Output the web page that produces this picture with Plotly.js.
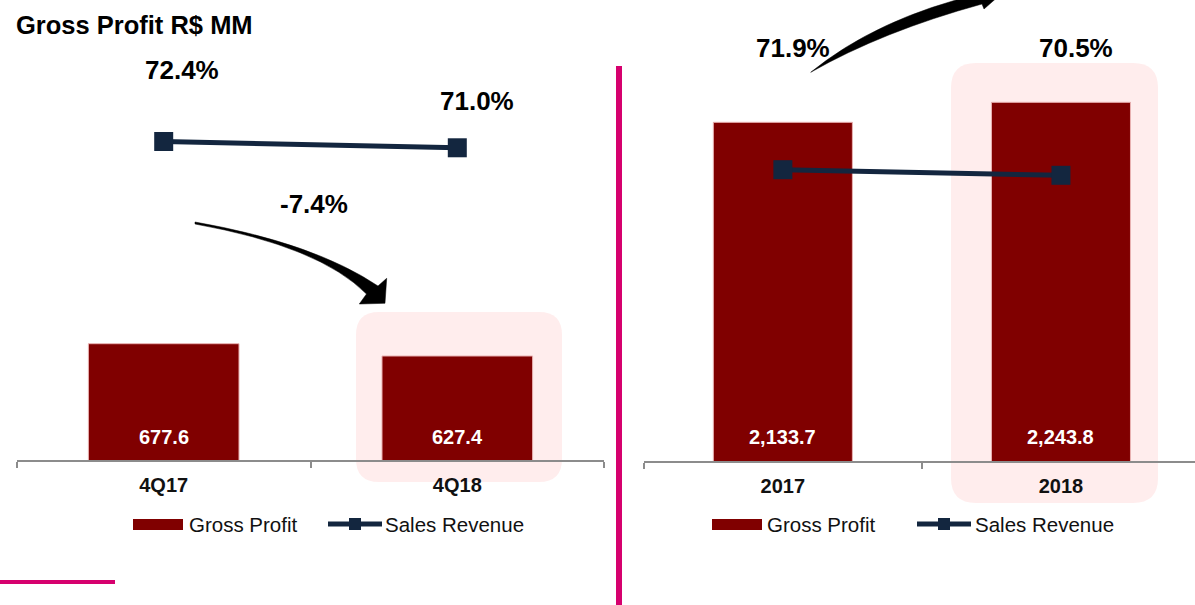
<!DOCTYPE html>
<html>
<head>
<meta charset="utf-8">
<script src="https://cdn.plot.ly/plotly-3.0.1.min.js"></script>
<style>
html,body{margin:0;padding:0;overflow:hidden;background:#fff;}
#chart{width:1200px;height:605px;}
</style>
</head>
<body>
<div id="chart"></div>
<script>
// ---- data ----
const qCategories = ['4Q17', '4Q18'];
const qGrossProfit = [677.6, 627.4];
const qMargin = [72.4, 71.0];
const yCategories = ['2017', '2018'];
const yGrossProfit = [2133.7, 2243.8];
const yMargin = [71.9, 70.5];
const seriesNames = ['Gross Profit', 'Sales Revenue'];
const chartTitle = 'Gross Profit R$ MM';

// ---- styling ----
const FONT = 'Liberation Sans, Arial, sans-serif';
const BAR = '#800000';
const LINE = '#13263f';
const PINK = '#d6006e';
const BOX = '#ffeded';
const W = 1200, H = 605, MB = 144, HP = H - MB;

function P(x, y) { return (x / W).toFixed(5) + ',' + ((HP - y) / HP).toFixed(5); }
function rr(x0, y0, x1, y1, r) {
  return 'M' + P(x0 + r, y0) + ' L' + P(x1 - r, y0) + ' Q' + P(x1, y0) + ' ' + P(x1, y0 + r) +
    ' L' + P(x1, y1 - r) + ' Q' + P(x1, y1) + ' ' + P(x1 - r, y1) +
    ' L' + P(x0 + r, y1) + ' Q' + P(x0, y1) + ' ' + P(x0, y1 - r) +
    ' L' + P(x0, y0 + r) + ' Q' + P(x0, y0) + ' ' + P(x0 + r, y0) + ' Z';
}
const fmt = v => v.toLocaleString('en-US', {minimumFractionDigits: 1, maximumFractionDigits: 1});
const pct = v => v.toFixed(1) + '%';

const yLeftRange = [203, 2080];
const y2LeftRange = [1.62, 103.84];
const yRightRange = [269, 2807];
const y2RightRange = [-0.93, 114.33];

const traces = [
  {type: 'bar', x: qCategories, y: qGrossProfit, xaxis: 'x', yaxis: 'y', name: seriesNames[0],
   width: 0.513, marker: {color: BAR, line: {color: '#e9b3b3', width: 1}}, hoverinfo: 'none'},
  {type: 'scatter', mode: 'lines+markers', x: qCategories, y: qMargin, xaxis: 'x', yaxis: 'y2', name: seriesNames[1],
   line: {color: LINE, width: 5}, marker: {symbol: 'square', size: 19, color: LINE}, hoverinfo: 'none'},
  {type: 'bar', x: yCategories, y: yGrossProfit, xaxis: 'x3', yaxis: 'y3', name: seriesNames[0],
   width: 0.5, marker: {color: BAR, line: {color: '#e9b3b3', width: 1}}, hoverinfo: 'none'},
  {type: 'scatter', mode: 'lines+markers', x: yCategories, y: yMargin, xaxis: 'x3', yaxis: 'y4', name: seriesNames[1],
   line: {color: LINE, width: 5}, marker: {symbol: 'square', size: 19, color: LINE}, hoverinfo: 'none'}
];

const xCommon = {
  type: 'category', autorange: false, range: [-0.5, 1.5],
  showline: true, linecolor: '#8c8c8c', linewidth: 2,
  ticks: 'outside', tickson: 'boundaries', ticklen: 6, tickwidth: 2, tickcolor: '#8c8c8c',
  ticklabelstandoff: 6,
  tickfont: {family: FONT, size: 20, color: '#111', weight: 'bold'},
  showgrid: false, zeroline: false, fixedrange: true
};
const yHidden = {visible: false, showgrid: false, zeroline: false, fixedrange: true, autorange: false};

const annotations = [];
// bar value labels (x given as category index)
qCategories.forEach((c, i) => annotations.push({x: i, y: yLeftRange[0], xref: 'x', yref: 'y', yshift: 23,
  text: fmt(qGrossProfit[i]), showarrow: false, xanchor: 'center', yanchor: 'middle',
  font: {family: FONT, size: 20, color: '#fff', weight: 'bold'}}));
yCategories.forEach((c, i) => annotations.push({x: i, y: yRightRange[0], xref: 'x3', yref: 'y3', yshift: 24,
  text: fmt(yGrossProfit[i]), showarrow: false, xanchor: 'center', yanchor: 'middle',
  font: {family: FONT, size: 20, color: '#fff', weight: 'bold'}}));
// margin labels
const qShift = [[18.7, 71.8], [20, 46.5]];
const yShift = [[10.3, 121.4], [15.3, 127]];
qCategories.forEach((c, i) => annotations.push({x: i, y: qMargin[i], xref: 'x', yref: 'y2',
  xshift: qShift[i][0], yshift: qShift[i][1], text: pct(qMargin[i]), showarrow: false,
  font: {family: FONT, size: 26, color: '#000', weight: 'bold'}}));
yCategories.forEach((c, i) => annotations.push({x: i, y: yMargin[i], xref: 'x3', yref: 'y4',
  xshift: yShift[i][0], yshift: yShift[i][1], text: pct(yMargin[i]), showarrow: false,
  font: {family: FONT, size: 26, color: '#000', weight: 'bold'}}));
// growth label
const qGrowth = (qGrossProfit[1] / qGrossProfit[0] - 1) * 100;
annotations.push({xref: 'paper', yref: 'paper', x: 313.7 / W, y: (HP - 204) / HP, text: qGrowth.toFixed(1) + '%',
  showarrow: false, xanchor: 'center', yanchor: 'middle', font: {family: FONT, size: 26, color: '#000', weight: 'bold'}});
// manual legends
function legendText(x, y, t) {
  annotations.push({xref: 'paper', yref: 'paper', x: x / W, y: (HP - y) / HP, text: t, showarrow: false,
    xanchor: 'left', yanchor: 'middle', xshift: -2, font: {family: FONT, size: 20.5, color: '#111'}});
}
legendText(188.7, 524, seriesNames[0]);
legendText(385.4, 524, seriesNames[1]);
legendText(767, 524, seriesNames[0]);
legendText(975, 524, seriesNames[1]);

const shapes = [
  // highlight boxes
  {type: 'path', xref: 'paper', yref: 'paper', path: rr(356, 312, 562, 482, 23), fillcolor: BOX, line: {width: 0}, layer: 'below'},
  {type: 'path', xref: 'paper', yref: 'paper', path: rr(951, 63, 1158, 503, 25), fillcolor: BOX, line: {width: 0}, layer: 'below'},
  // pink divider lines
  {type: 'line', xref: 'paper', yref: 'paper', x0: 619 / W, x1: 619 / W, y0: (HP - 66) / HP, y1: (HP - 610) / HP,
   line: {color: PINK, width: 6}, layer: 'above'},
  {type: 'line', xref: 'paper', yref: 'paper', x0: 0, x1: 115 / W, y0: (HP - 582) / HP, y1: (HP - 582) / HP,
   line: {color: PINK, width: 4}, layer: 'above'},
  // curved arrows
  {type: 'path', xref: 'paper', yref: 'paper', layer: 'above', fillcolor: '#000', line: {color: '#000', width: 0.5},
   path: 'M' + P(195, 222) + ' Q' + P(314, 243) + ' ' + P(378, 286) + ' L' + P(386.7, 278.3) + ' L' + P(385, 303.3) +
     ' L' + P(359.3, 304) + ' L' + P(366.5, 294) + ' Q' + P(319.5, 246.4) + ' ' + P(195, 224) + ' Z'},
  {type: 'path', xref: 'paper', yref: 'paper', layer: 'above', fillcolor: '#000', line: {color: '#000', width: 0.5},
   path: 'M' + P(810.7, 72.3) + ' Q' + P(877, 18.4) + ' ' + P(979, -6) + ' L' + P(978, -22) + ' L' + P(1008, -12) +
     ' L' + P(984, 9) + ' L' + P(982, 4) + ' Q' + P(882.6, 31.3) + ' ' + P(810.7, 72.3) + ' Z'},
  // legend swatches
  {type: 'rect', xref: 'paper', yref: 'paper', x0: 133 / W, x1: 183 / W, y0: (HP - 519) / HP, y1: (HP - 530) / HP,
   fillcolor: BAR, line: {width: 0}},
  {type: 'line', xref: 'paper', yref: 'paper', x0: 328 / W, x1: 382 / W, y0: (HP - 524) / HP, y1: (HP - 524) / HP,
   line: {color: LINE, width: 5}},
  {type: 'rect', xref: 'paper', yref: 'paper', x0: 349 / W, x1: 361 / W, y0: (HP - 518) / HP, y1: (HP - 530) / HP,
   fillcolor: LINE, line: {width: 0}},
  {type: 'rect', xref: 'paper', yref: 'paper', x0: 712 / W, x1: 762 / W, y0: (HP - 519) / HP, y1: (HP - 530) / HP,
   fillcolor: BAR, line: {width: 0}},
  {type: 'line', xref: 'paper', yref: 'paper', x0: 917 / W, x1: 971 / W, y0: (HP - 524) / HP, y1: (HP - 524) / HP,
   line: {color: LINE, width: 5}},
  {type: 'rect', xref: 'paper', yref: 'paper', x0: 938 / W, x1: 950 / W, y0: (HP - 518) / HP, y1: (HP - 530) / HP,
   fillcolor: LINE, line: {width: 0}}
];

const layout = {
  width: W, height: H,
  margin: {l: 0, r: 0, t: 0, b: MB, pad: 0},
  paper_bgcolor: '#fff', plot_bgcolor: 'rgba(0,0,0,0)',
  showlegend: false,
  title: {text: chartTitle, xref: 'container', yref: 'container', x: 16 / W, xanchor: 'left',
    y: 1 - 25 / H, yanchor: 'middle', font: {family: FONT, size: 25.5, color: '#000', weight: 'bold'}},
  xaxis: Object.assign({}, xCommon, {domain: [16.9 / W, 604.1 / W], anchor: 'y'}),
  yaxis: Object.assign({}, yHidden, {domain: [1 / HP, 1], range: yLeftRange, anchor: 'x'}),
  yaxis2: Object.assign({}, yHidden, {overlaying: 'y', range: y2LeftRange, anchor: 'x', side: 'right'}),
  xaxis3: Object.assign({}, xCommon, {domain: [643.8 / W, 1], anchor: 'y3'}),
  yaxis3: Object.assign({}, yHidden, {domain: [0, 1], range: yRightRange, anchor: 'x3'}),
  yaxis4: Object.assign({}, yHidden, {overlaying: 'y3', range: y2RightRange, anchor: 'x3', side: 'right'}),
  annotations: annotations,
  shapes: shapes
};

Plotly.newPlot('chart', traces, layout, {displayModeBar: false, staticPlot: true});
</script>
</body>
</html>
